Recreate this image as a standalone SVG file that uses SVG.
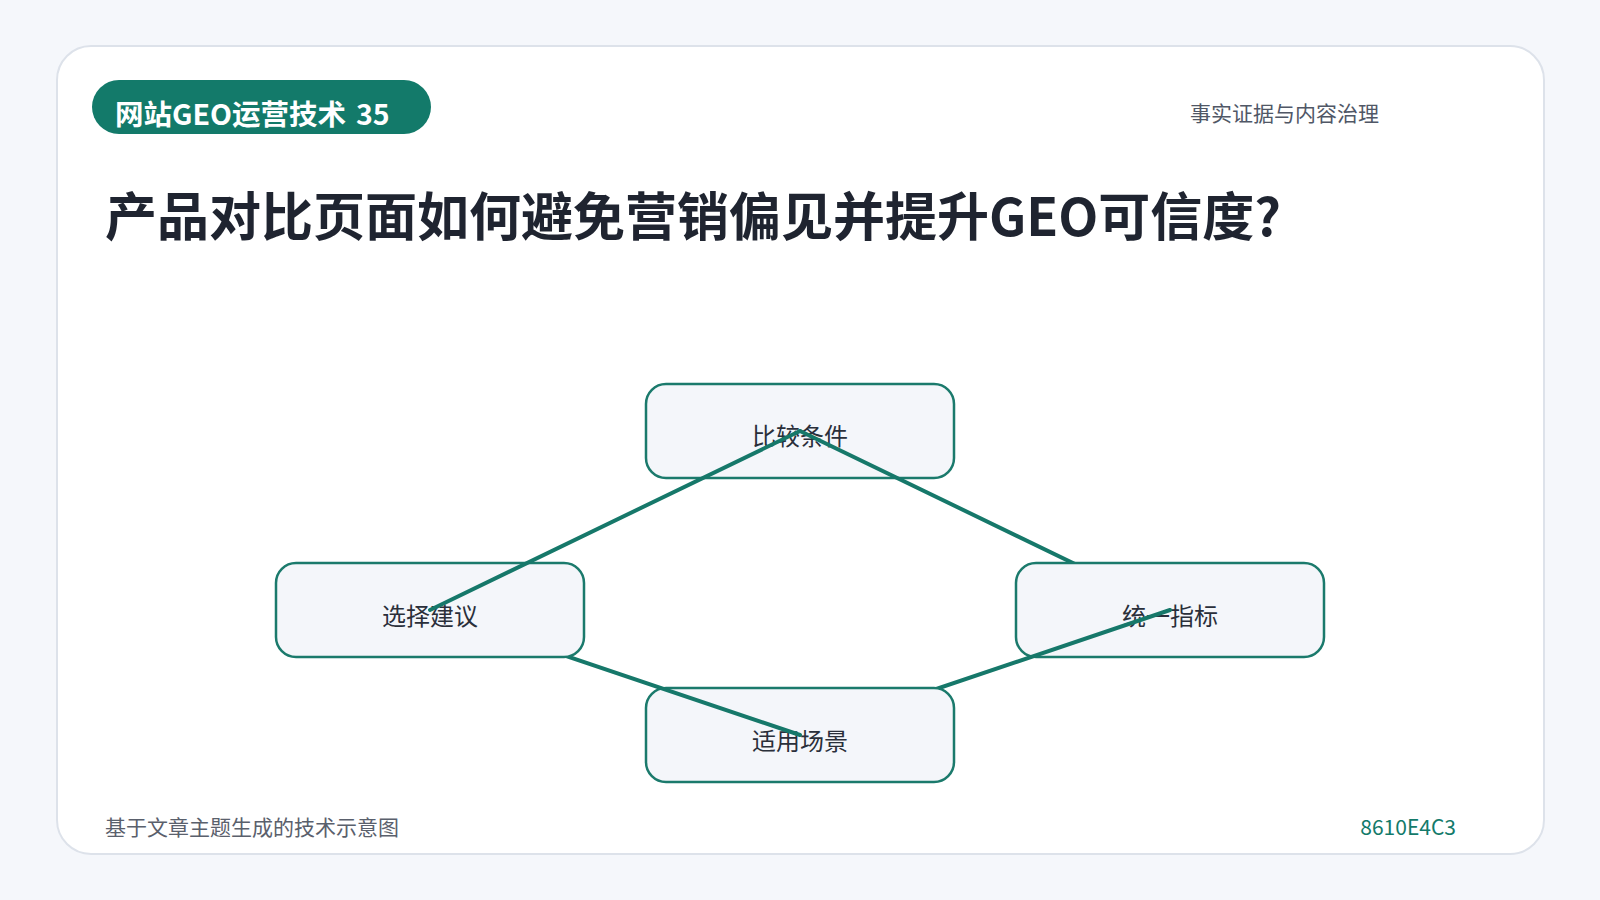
<svg xmlns="http://www.w3.org/2000/svg" width="1600" height="900" viewBox="0 0 1600 900">
<style>
text{font-family:"Noto Sans CJK SC","Noto Sans",sans-serif}
.node rect{fill:#f4f6fa;stroke:#1b7a6c;stroke-width:2.5}
.node text{font-size:24px;fill:#2a2f3a;text-anchor:middle}
.edge{stroke:#16786a;stroke-width:4;stroke-linecap:round;fill:none}
</style>
<rect x="0" y="0" width="1600" height="900" fill="#f5f7fb"/>
<rect x="57" y="46" width="1487" height="808" rx="34" fill="#ffffff" stroke="#dde2ea" stroke-width="2"/>
<g id="badge">
<rect x="92" y="80" width="339" height="54" rx="27" fill="#137a6a"/>
<text x="115" y="125" font-size="28.5" font-weight="bold" fill="#ffffff">网站GEO运营技术<tspan x="356">35</tspan></text>
</g>
<text x="1379" y="121" font-size="21" fill="#505766" text-anchor="end">事实证据与内容治理</text>
<text x="105" y="236" font-size="52" font-weight="bold" fill="#1f2430">产品对比页面如何避免营销偏见并提升GEO可信度?</text>
<g id="diagram">
<g id="node-top" class="node"><rect x="646" y="384" width="308" height="94" rx="20"/><text x="800" y="445">比较条件</text></g>
<g class="connectors-1"><line class="edge" x1="800" y1="431" x2="1170" y2="610"/></g>
<g id="node-right" class="node"><rect x="1016" y="563" width="308" height="94" rx="20"/><text x="1170" y="625">统一指标</text></g>
<g class="connectors-2"><line class="edge" x1="1170" y1="610" x2="800" y2="735"/></g>
<g id="node-bottom" class="node"><rect x="646" y="688" width="308" height="94" rx="20"/><text x="800" y="750">适用场景</text></g>
<g class="connectors-3"><line class="edge" x1="800" y1="735" x2="430" y2="610"/></g>
<g id="node-left" class="node"><rect x="276" y="563" width="308" height="94" rx="20"/><text x="430" y="625">选择建议</text></g>
<g class="connectors-4"><line class="edge" x1="430" y1="610" x2="800" y2="431"/></g>
</g>
<text x="105" y="835" font-size="21" fill="#5a606c">基于文章主题生成的技术示意图</text>
<text x="1456" y="835" font-size="21" fill="#137a6a" text-anchor="end">8610E4C3</text>
</svg>
